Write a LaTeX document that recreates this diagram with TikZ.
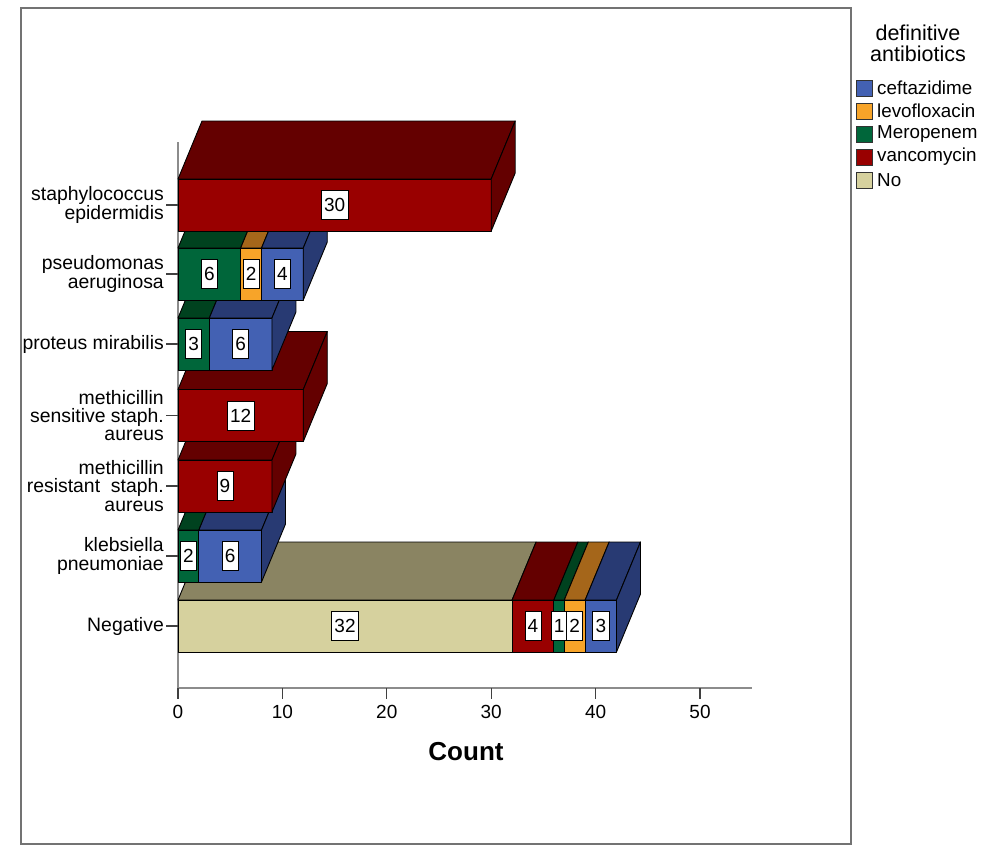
\documentclass[tikz,border=0pt]{standalone}
\usepackage{fontspec}
\setmainfont{Liberation Sans}
\definecolor{cefF}{HTML}{4361B3}
\definecolor{cefD}{HTML}{283A73}
\definecolor{levF}{HTML}{F7A429}
\definecolor{levD}{HTML}{A5661A}
\definecolor{merF}{HTML}{00663A}
\definecolor{merD}{HTML}{00421F}
\definecolor{vanF}{HTML}{990000}
\definecolor{vanD}{HTML}{640000}
\definecolor{noF}{HTML}{D6D19E}
\definecolor{noD}{HTML}{8A8462}
\definecolor{framec}{HTML}{737373}
\definecolor{axisc}{HTML}{8C8C8C}
\tikzset{
  edge/.style={draw=black, line width=0.9pt, line join=round},
  vlab/.style={draw=black, fill=white, line width=0.7pt, inner xsep=2.8pt, inner ysep=0pt, minimum height=29pt, font=\fontsize{19}{19}\selectfont},
  catlab/.style={anchor=east, align=right, inner sep=0pt, font=\fontsize{19.4}{18.3}\selectfont},
  ticklab/.style={inner sep=0pt, font=\fontsize{19}{19}\selectfont},
  legtxt/.style={anchor=west, inner sep=0pt, font=\fontsize{18.8}{19}\selectfont},
  legbox/.style={draw=black!80, line width=0.8pt, minimum width=16pt, minimum height=16pt, inner sep=0pt},
  tickc/.style={draw=black!75, line width=1.2pt},
}
% geometry: x(v)=178+10.44 v ; depth (24,-58) ; half height 26
\newcommand\segtop[4]{\filldraw[fill=#4,edge] ({178+10.44*#2},{#1-26}) -- ({178+10.44*#3},{#1-26}) -- ({178+10.44*#3+24},{#1-84}) -- ({178+10.44*#2+24},{#1-84}) -- cycle;}
\newcommand\segfront[4]{\filldraw[fill=#4,edge] ({178+10.44*#2},{#1-26}) rectangle ({178+10.44*#3},{#1+26});}
\newcommand\segside[3]{\filldraw[fill=#3,edge] ({178+10.44*#2},{#1-26}) -- ({178+10.44*#2+24},{#1-84}) -- ({178+10.44*#2+24},{#1-32}) -- ({178+10.44*#2},{#1+26}) -- cycle;}
\newcommand\segall[5]{\segtop{#1}{#2}{#3}{#5}\segfront{#1}{#2}{#3}{#4}}
\begin{document}
\begin{tikzpicture}[x=1pt,y=-1pt]
\useasboundingbox (0,0) rectangle (1000,855);
\fill[white] (0,0) rectangle (1000,855);
% outer frame
\draw[framec, line width=2.4pt] (21,8) rectangle (851,844);
% axes
\draw[axisc, line width=1.3pt] (178,142) -- (178,688);
\draw[axisc, line width=1.3pt] (178,688) -- (752,688);
\foreach \v [count=\k] in {0,10,20,30,40,50} {
  \draw[tickc] ({178+10.44*\v},688) -- ({178+10.44*\v},699);
  \node[ticklab] (tk\k) at ({178+10.44*\v},712) {\v};
}
\node[font=\bfseries\fontsize{26}{26}\selectfont, inner sep=0pt] (count) at (466,752) {Count};
% category ticks and labels
\foreach \yc in {626,556,486,415.5,344,274,205} { \draw[tickc] (166,\yc) -- (178,\yc); }
\node[catlab] (c0) at (164,626) {Negative};
\node[catlab] (c1) at (164,556) {klebsiella\\pneumoniae};
\node[catlab] (c2) at (164,486) {methicillin\\resistant\ \ staph.\\aureus};
\node[catlab] (c3) at (164,415.5) {methicillin\\sensitive staph.\\aureus};
\node[catlab] (c4) at (164,344) {proteus mirabilis};
\node[catlab] (c5) at (164,274) {pseudomonas\\aeruginosa};
\node[catlab] (c6) at (164,205) {staphylococcus\\epidermidis};
% bars, bottom to top
% Negative: No 32, vanc 4, mer 1, levo 2, ceft 3
\segall{626}{0}{32}{noF}{noD}
\segall{626}{32}{36}{vanF}{vanD}
\segall{626}{36}{37}{merF}{merD}
\segall{626}{37}{39}{levF}{levD}
\segall{626}{39}{42}{cefF}{cefD}
\segside{626}{42}{cefD}
\node[vlab] (v01) at ({178+10.44*16},626) {32};
\node[vlab] (v02) at ({178+10.44*34},626) {4};
\node[vlab] (v03) at ({178+10.44*36.5},626) {1};
\node[vlab] (v04) at ({178+10.44*38},626) {2};
\node[vlab] (v05) at ({178+10.44*40.5},626) {3};
% klebsiella: mer 2, ceft 6
\segall{556}{0}{2}{merF}{merD}
\segall{556}{2}{8}{cefF}{cefD}
\segside{556}{8}{cefD}
\node[vlab] (v11) at ({178+10.44*1},556) {2};
\node[vlab] (v12) at ({178+10.44*5},556) {6};
% MRSA: vanc 9
\segall{486}{0}{9}{vanF}{vanD}
\segside{486}{9}{vanD}
\node[vlab] (v21) at ({178+10.44*4.5},486) {9};
% MSSA: vanc 12
\segall{415.5}{0}{12}{vanF}{vanD}
\segside{415.5}{12}{vanD}
\node[vlab] (v31) at ({178+10.44*6},415.5) {12};
% proteus: mer 3, ceft 6
\segall{344}{0}{3}{merF}{merD}
\segall{344}{3}{9}{cefF}{cefD}
\segside{344}{9}{cefD}
\node[vlab] (v41) at ({178+10.44*1.5},344) {3};
\node[vlab] (v42) at ({178+10.44*6},344) {6};
% pseudomonas: mer 6, levo 2, ceft 4
\segall{274}{0}{6}{merF}{merD}
\segall{274}{6}{8}{levF}{levD}
\segall{274}{8}{12}{cefF}{cefD}
\segside{274}{12}{cefD}
\node[vlab] (v51) at ({178+10.44*3},274) {6};
\node[vlab] (v52) at ({178+10.44*7},274) {2};
\node[vlab] (v53) at ({178+10.44*10},274) {4};
% staph epidermidis: vanc 30
\segall{205}{0}{30}{vanF}{vanD}
\segside{205}{30}{vanD}
\node[vlab] (v61) at ({178+10.44*15},205) {30};
% legend
\node[align=center, inner sep=0pt, font=\fontsize{21.5}{21}\selectfont] (legtitle) at (918,43) {definitive\\antibiotics};
\node[legbox, fill=cefF] (l1) at (864,88) {};
\node[legbox, fill=levF] (l2) at (864,111) {};
\node[legbox, fill=merF] (l3) at (864,134) {};
\node[legbox, fill=vanF] (l4) at (864,157) {};
\node[legbox, fill=noF] (l5) at (864,180) {};
\node[legtxt] (t1) at (877,88) {ceftazidime};
\node[legtxt] (t2) at (877,111) {levofloxacin};
\node[legtxt] (t3) at (877,134) {Meropenem};
\node[legtxt] (t4) at (877,157) {vancomycin};
\node[legtxt] (t5) at (877,180) {No};
\end{tikzpicture}
\end{document}
